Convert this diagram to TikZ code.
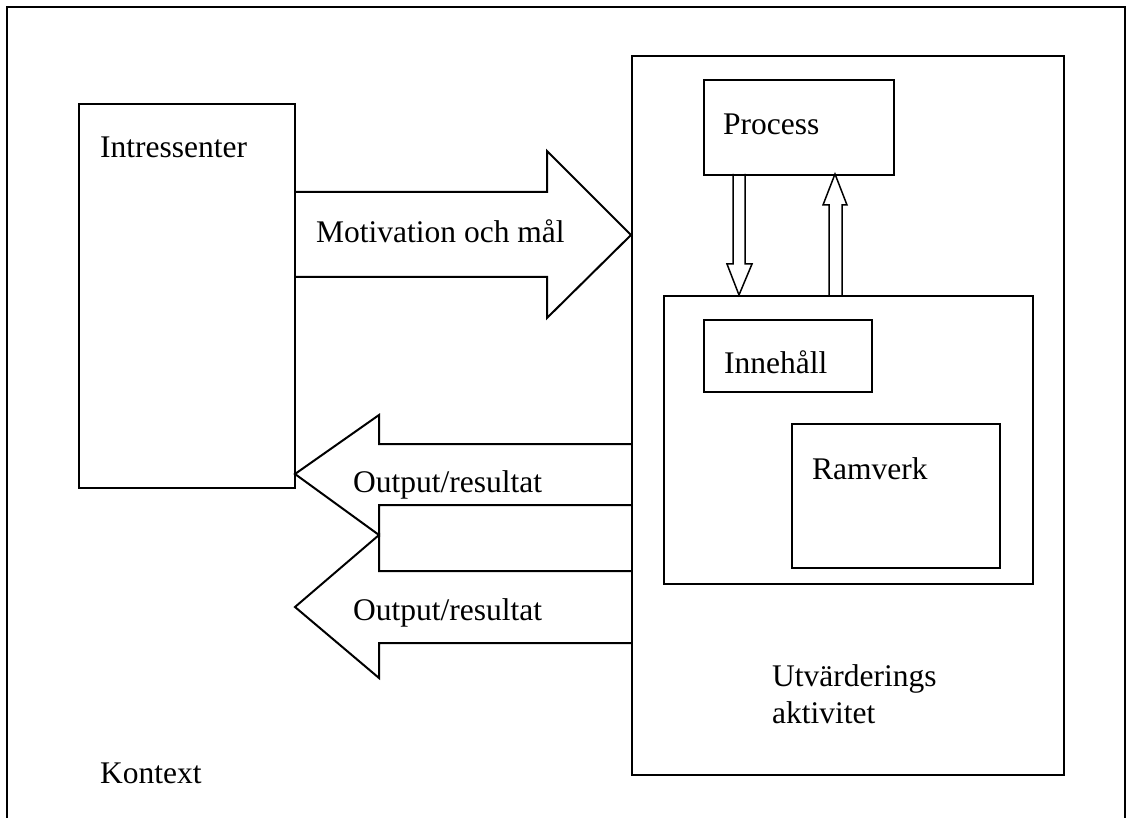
\documentclass[tikz,border=0pt]{standalone}
\usepackage{fontspec}
\setmainfont{Liberation Serif}
\begin{document}
\begin{tikzpicture}[x=1pt,y=-1pt,
  frame/.style={line width=2pt},
  box/.style={draw,line width=2pt,rectangle,inner sep=0pt,anchor=north west},
  bigarrow/.style={line width=2pt,line join=miter},
  smallarrow/.style={line width=1.5pt,line join=miter},
  lbl/.style={anchor=base west,inner sep=0pt,font=\fontsize{31.5}{37}\selectfont}]
\useasboundingbox (0,0) rectangle (1128,818);
\clip (0,0) rectangle (1128,818);
% outer context frame
\draw[frame] (7,830) -- (7,7) -- (1125,7) -- (1125,830);
% boxes
\node[box,minimum width=216pt,minimum height=384pt] (intr) at (78,103) {};
\node[box,minimum width=432pt,minimum height=719pt] (utv) at (631,55) {};
\node[box,minimum width=190pt,minimum height=95pt] (process) at (703,79) {};
\node[box,minimum width=369pt,minimum height=288pt] (inner) at (663,295) {};
\node[box,minimum width=168pt,minimum height=72pt] (innehall) at (703,319) {};
\node[box,minimum width=208pt,minimum height=144pt] (ramverk) at (791,423) {};
% big block arrows
\draw[bigarrow] (295,192) -- (547,192) -- (547,151) -- (631,235) -- (547,318) -- (547,277) -- (295,277);
\draw[bigarrow] (631,444) -- (379,444) -- (379,415) -- (295,474) -- (379,535) -- (379,505) -- (631,505);
\draw[bigarrow] (631,571) -- (379,571) -- (379,535) -- (295,607) -- (379,678) -- (379,643) -- (631,643);
% small hollow arrows between Process and inner box
\draw[smallarrow] (733,174) -- (733,264) -- (727,264) -- (739,295) -- (752,264) -- (745,264) -- (745,174);
\draw[smallarrow] (829,295) -- (829,205) -- (823,205) -- (835,174) -- (847,205) -- (842,205) -- (842,295);
% labels
\node[lbl] (tintr) at (100,158) {Intressenter};
\node[lbl] (tmot) at (316,243) {Motivation och mål};
\node[lbl] (tproc) at (723,135) {Process};
\node[lbl] (tinneh) at (724,374) {Innehåll};
\node[lbl] (tram) at (812,479) {Ramverk};
\node[lbl] (tout1) at (353,492) {Output/resultat};
\node[lbl] (tout2) at (353,620) {Output/resultat};
\node[lbl] (tutv1) at (772,686) {Utvärderings};
\node[lbl] (tutv2) at (772,723) {aktivitet};
\node[lbl] (tkont) at (100,783) {Kontext};
\end{tikzpicture}
\end{document}
